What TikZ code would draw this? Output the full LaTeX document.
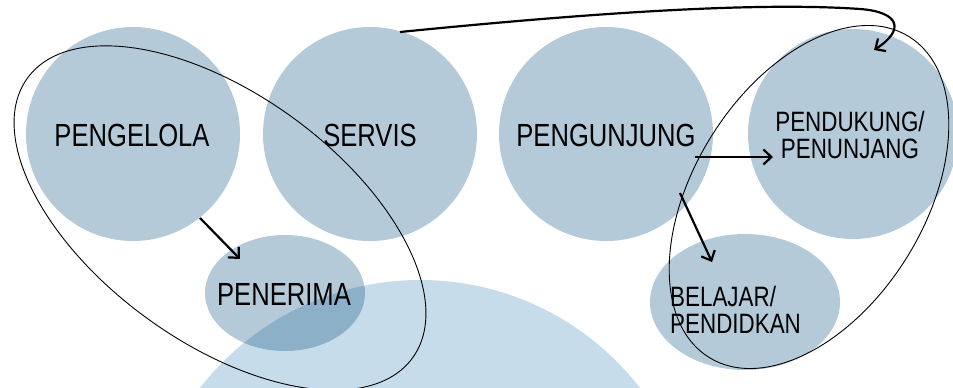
\documentclass[tikz,border=0pt]{standalone}
\usepackage{fontspec}
\usepackage{graphicx}
\newfontfamily\lblfont[FakeStretch=0.8]{Liberation Sans}
\usetikzlibrary{arrows.meta,shapes.geometric}
\definecolor{bubble}{HTML}{B4CAD9}
\definecolor{pale}{HTML}{C6DCEB}
\definecolor{deep}{HTML}{8DB0C9}
\tikzset{
  bubble/.style={fill=bubble, draw=none, inner sep=0pt},
  lbl/.style={font=\lblfont\fontsize{32}{32}\selectfont, text=black, inner sep=0pt},
  lbltwo/.style={font=\lblfont\fontsize{28}{27}\selectfont, text=black, inner sep=0pt},
  flow/.style={line width=2.2pt, -{Straight Barb[length=8pt,width=15pt]}},
  grouping/.style={draw=black, line width=0.9pt},
}
\begin{document}
\begin{tikzpicture}[x=1pt,y=-1pt]
\useasboundingbox (0,0) rectangle (953,388);
\begin{scope}
\clip (0,0) rectangle (953,388);
% bubbles
\node[bubble, circle, minimum size=214pt] (pengelola) at (133,134) {};
\node[bubble, circle, minimum size=214pt] (servis) at (370,134) {};
\node[bubble, circle, minimum size=214pt] (pengunjung) at (606,134) {};
\node[bubble, circle, minimum size=210pt] (pendukung) at (853,134) {};
\node[bubble, ellipse, minimum width=160pt, minimum height=116pt] (penerima) at (285,293) {};
\node[bubble, ellipse, minimum width=190pt, minimum height=136pt] (belajar) at (745,302) {};
% large pale circle
\fill[pale] (420,558) circle (278pt);
\begin{scope}
  \clip (285,293) ellipse [x radius=80pt, y radius=58pt];
  \fill[deep] (420,558) circle (278pt);
\end{scope}
% grouping outlines
\draw[grouping, rotate around={-36:(220,218)}] (220,218) ellipse [x radius=238pt, y radius=124pt];
\draw[grouping, rotate around={58:(809,197)}] (809,197) ellipse [x radius=189pt, y radius=115pt];
\end{scope}
% labels
\node[lbl] (tpengelola) at (132,135) {PENGELOLA};
\node[lbl] (tservis) at (370,135) {SERVIS};
\node[lbl] (tpengunjung) at (606,135) {PENGUNJUNG};
\node[lbltwo, align=center] (tpendukung) at (850,135) {PENDUKUNG/\\PENUNJANG};
\node[lbltwo, align=left, anchor=west] (tbelajar) at (670,310) {BELAJAR/\\PENDIDKAN};
\node[lbl] (tpenerima) at (284,294) {PENERIMA};
% connector end points
\coordinate (a1) at (200,218);
\coordinate (b1) at (240,259);
\coordinate (a2) at (695,157);
\coordinate (b2) at (773,157);
\coordinate (a3) at (680,193);
\coordinate (b3) at (712,262);
\coordinate (a4) at (400,32);
\coordinate (m4) at (860,9);
\coordinate (b4) at (874,50);
\draw[flow] (a1) -- (b1);
\draw[flow] (a2) -- (b2);
\draw[flow] (a3) -- (b3);
\draw[flow] (a4) .. controls (600,12) and (760,2) .. (m4) .. controls (900,12) and (905,30) .. (b4);
\end{tikzpicture}
\end{document}
